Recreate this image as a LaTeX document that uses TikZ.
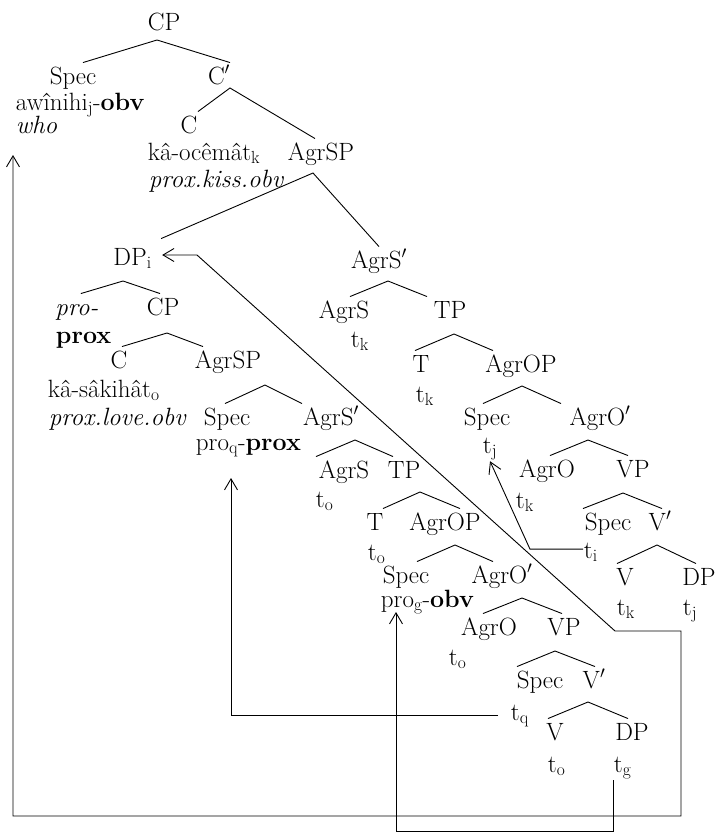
\documentclass[tikz,border=0pt]{standalone}
\usepackage{tikz}
\usetikzlibrary{arrows.meta}

\tikzset{
  cat/.style={anchor=base, inner sep=0pt, text height=21pt, text depth=5pt},
  lex/.style={anchor=base west, inner sep=0.5pt},
  move/.style={-{Straight Barb[length=11pt,width=13pt]}},
  twoway/.style={{Straight Barb[length=11pt,width=13pt]}-{Straight Barb[length=11pt,width=13pt]}},
}

\begin{document}
\begin{tikzpicture}[x=1pt, y=-1pt, line width=0.9pt, font=\fontsize{25}{29}\selectfont]
  \useasboundingbox (0,0) rectangle (717,833);

  \node[cat] (cp1) at (164,30) {CP};
  \node[cat] (spec1) at (73,84) {Spec};
  \node[cat] (cbar) at (219,84) {C$'$};
  \node[lex] (awi) at (15,110) {awînihi\textsubscript{j}-\textbf{obv}};
  \node[lex] (who) at (15,133) {\textit{who}};
  \node[cat] (c1) at (189,133) {C};
  \node[lex] (kiss) at (147,160) {kâ-ocêmât\textsubscript{k}};
  \node[lex] (kissgl) at (148,187) {\textit{prox.kiss.obv}};
  \node[cat] (agrsp1) at (321,160) {AgrSP};
  \node[cat, anchor=base west] (dpi) at (113,265) {DP\textsubscript{i}};
  \node[cat] (agrsbar1) at (379,268) {AgrS$'$};

  \node[cat, anchor=base west] (pro) at (55,315) {\textit{pro-}};
  \node[lex] (prox) at (55,343) {\textbf{prox}};
  \node[cat] (cp2) at (163,315) {CP};
  \node[cat] (c2) at (119,368) {C};
  \node[lex] (love) at (47,397) {kâ-sâkihât\textsubscript{o}};
  \node[lex] (lovegl) at (48,425) {\textit{prox.love.obv}};
  \node[cat] (agrsp2) at (228,368) {AgrSP};
  \node[cat] (spec2) at (227,425) {Spec};
  \node[lex] (proq) at (195,450) {pro\textsubscript{q}-\textbf{prox}};
  \node[cat] (agrsbar2) at (331,425) {AgrS$'$};
  \node[cat] (agrs2) at (344,478) {AgrS};
  \node[lex] (to1) at (315,507) {t\textsubscript{o}};
  \node[cat] (tp2) at (404,478) {TP};
  \node[cat] (t2) at (375,530) {T};
  \node[lex] (to2) at (367,560) {t\textsubscript{o}};
  \node[cat] (agrop2) at (445,530) {AgrOP};
  \node[cat] (spec3) at (406,583) {Spec};
  \node[lex] (prog) at (380,607) {pro\textsubscript{g}-\textbf{obv}};
  \node[cat] (agrobar2) at (502,583) {AgrO$'$};
  \node[cat] (agro2) at (489,635) {AgrO};
  \node[lex] (to3) at (448,665) {t\textsubscript{o}};
  \node[cat] (vp2) at (564,635) {VP};
  \node[cat] (spec4) at (540,688) {Spec};
  \node[lex] (tq) at (510,720) {t\textsubscript{q}};
  \node[cat] (vbar2) at (594,688) {V$'$};
  \node[cat] (v2) at (555,740) {V};
  \node[lex] (to4) at (547,772) {t\textsubscript{o}};
  \node[cat] (dp2) at (632,740) {DP};
  \node[lex] (tg) at (613,772) {t\textsubscript{g}};

  \node[cat] (agrs1) at (344,318) {AgrS};
  \node[lex] (tk1) at (350,347) {t\textsubscript{k}};
  \node[cat] (tp1) at (450,318) {TP};
  \node[cat] (t1) at (421,372) {T};
  \node[lex] (tk2) at (415,402) {t\textsubscript{k}};
  \node[cat] (agrop1) at (521,372) {AgrOP};
  \node[cat] (spec5) at (487,425) {Spec};
  \node[lex] (tj1) at (482,453) {t\textsubscript{j}};
  \node[cat] (agrobar1) at (600,425) {AgrO$'$};
  \node[cat] (agro1) at (547,477) {AgrO};
  \node[lex] (tk3) at (515,508) {t\textsubscript{k}};
  \node[cat] (vp1) at (633,477) {VP};
  \node[cat] (spec6) at (608,530) {Spec};
  \node[lex] (ti) at (583,558) {t\textsubscript{i}};
  \node[cat] (vbar1) at (660,530) {V$'$};
  \node[cat] (v1) at (625,585) {V};
  \node[lex] (tk4) at (616,615) {t\textsubscript{k}};
  \node[cat] (dp1) at (699,585) {DP};
  \node[lex] (tj2) at (682,615) {t\textsubscript{j}};

  % roof tops
  \coordinate (cp1-r) at (157,40);
  \coordinate (cbar-r) at (230,88);
  \coordinate (agrsp1-r) at (313,173);
  \coordinate (dpi-r) at (123,281);
  \coordinate (cp2-r) at (167,333);
  \coordinate (agrsp2-r) at (265,385);
  \coordinate (agrsbar2-r) at (355,440);
  \coordinate (tp2-r) at (420,492);
  \coordinate (agrop2-r) at (455,545);
  \coordinate (agrobar2-r) at (522,598);
  \coordinate (vp2-r) at (555,651);
  \coordinate (vbar2-r) at (588,702);
  \coordinate (agrsbar1-r) at (388,281);
  \coordinate (tp1-r) at (454,334);
  \coordinate (agrop1-r) at (522,386);
  \coordinate (agrobar1-r) at (588,440);
  \coordinate (vp1-r) at (623,493);
  \coordinate (vbar1-r) at (657,545);

  \draw ([xshift=10pt]spec1.north) -- (cp1-r) -- ([xshift=11pt]cbar.north);
  \draw ([xshift=9pt]c1.north) -- (cbar-r) -- ([xshift=-6pt]agrsp1.north);
  \draw ([xshift=9pt,yshift=5pt]dpi.north east) -- (agrsp1-r) -- (agrsbar1.north);
  \draw ([xshift=4pt]pro.north) -- (dpi-r) -- ([xshift=-3pt]cp2.north);
  \draw ([xshift=3pt]c2.north) -- (cp2-r) -- ([xshift=-25pt]agrsp2.north);
  \draw ([xshift=-2pt]spec2.north) -- (agrsp2-r) -- ([xshift=-29pt]agrsbar2.north);
  \draw ([xshift=-28pt]agrs2.north) -- (agrsbar2-r) -- ([xshift=-11pt]tp2.north);
  \draw ([xshift=8pt]t2.north) -- (tp2-r) -- ([xshift=15pt]agrop2.north);
  \draw ([xshift=11pt]spec3.north) -- (agrop2-r) -- ([xshift=-9pt]agrobar2.north);
  \draw ([xshift=-6pt]agro2.north) -- (agrobar2-r) -- ([xshift=-2pt]vp2.north);
  \draw ([xshift=-23pt]spec4.north) -- (vp2-r) -- ([xshift=1pt]vbar2.north);
  \draw ([xshift=-7pt]v2.north) -- (vbar2-r) -- ([xshift=-4pt]dp2.north);
  \draw ([xshift=6pt]agrs1.north) -- (agrsbar1-r) -- ([xshift=-23pt]tp1.north);
  \draw ([xshift=-6pt]t1.north) -- (tp1-r) -- ([xshift=-28pt]agrop1.north);
  \draw ([xshift=-4pt]spec5.north) -- (agrop1-r) -- ([xshift=-39pt]agrobar1.north);
  \draw ([xshift=3pt]agro1.north) -- (agrobar1-r) -- ([xshift=-5pt]vp1.north);
  \draw ([xshift=-25pt]spec6.north) -- (vp1-r) -- ([xshift=2pt]vbar1.north);
  \draw ([xshift=-8pt]v1.north) -- (vbar1-r) -- ([xshift=-3pt]dp1.north);

  % movement paths
  \coordinate (who-tip) at (13,155);
  \coordinate (floor) at (13,816);
  \coordinate (corner) at (681,631);
  \coordinate (kink) at (615,631);
  \coordinate (dpi-step) at (197,255);
  \coordinate (dpi-tip) at ([shift={(10pt,10pt)}]dpi.base east);
  \coordinate (i-bend) at (530,0);
  \coordinate (q-tip) at (231,478);
  \coordinate (g-floor) at (0,831);
  \coordinate (g-tip) at (396,612);

  \draw[twoway] (who-tip) -- (floor) -| (corner) -- (kink) -- (dpi-step) -- (dpi-tip);
  \draw[move] ([yshift=3pt]ti.west) -- ([yshift=3pt]ti.west -| i-bend) -- (tj1.south);
  \draw[move] ([xshift=-12pt]tq.west) -| (q-tip);
  \draw[move] (tg.south west) -- (tg.south west |- g-floor) -| (g-tip);
\end{tikzpicture}
\end{document}
